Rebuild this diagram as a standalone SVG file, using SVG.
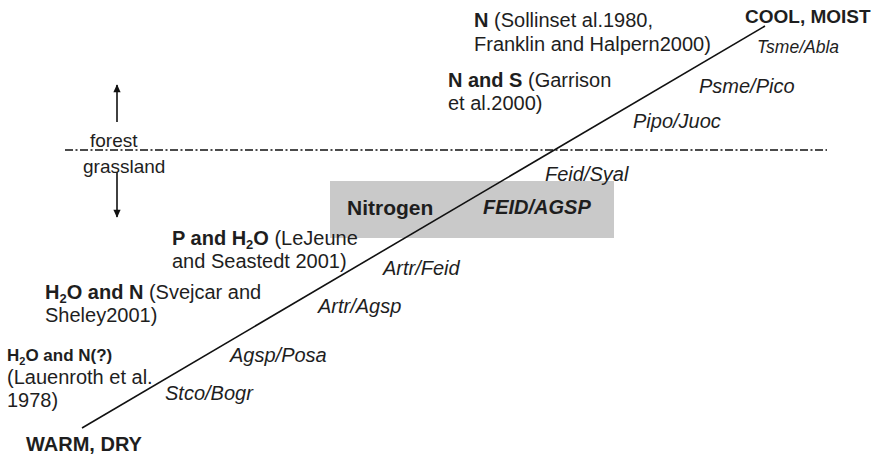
<svg xmlns="http://www.w3.org/2000/svg" width="871" height="456" viewBox="0 0 871 456">
<style>
text{font-family:"Liberation Sans",Arial,sans-serif;fill:#1e1e1e;font-size:20px}
.b{font-weight:bold}
.i{font-style:italic}
.sub{font-size:13px;font-weight:bold}
.ln{stroke:#111;stroke-width:1.6;fill:none}
.dash{stroke:#111;stroke-width:1.6;stroke-dasharray:8 2.5 2 2.5;fill:none}
</style>
<defs>
<marker id="ah" viewBox="0 0 10 10" refX="9" refY="5" markerWidth="9" markerHeight="8" markerUnits="userSpaceOnUse" orient="auto">
<path d="M0,0.5 L10,5 L0,9.5 Z" fill="#111"/>
</marker>
</defs>
<rect width="871" height="456" fill="#fff"/>
<g id="nitrogen-box">
<rect x="330" y="181" width="284" height="57" fill="#c9c9c9"/>
<text x="347" y="215" class="b" style="font-size:21px">Nitrogen</text>
<text x="483" y="214" class="b i">FEID/AGSP</text>
</g>
<g id="connectors">
<line class="ln" x1="82" y1="428" x2="765" y2="26"/>
<line class="dash" x1="65" y1="150" x2="827" y2="150"/>
<line class="ln" x1="117" y1="122" x2="117" y2="85" marker-end="url(#ah)"/>
<line class="ln" x1="117" y1="172" x2="117" y2="217" marker-end="url(#ah)"/>
</g>
<g id="zone-labels">
<text x="90" y="147" style="font-size:19px">forest</text>
<text x="83" y="173" style="font-size:19px">grassland</text>
</g>
<g id="end-labels">
<text x="745" y="23" class="b" style="font-size:19px">COOL, MOIST</text>
<text x="26" y="451" class="b">WARM, DRY</text>
</g>
<g id="ref-n">
<text x="474" y="27"><tspan class="b">N</tspan> (Sollinset al.1980,</text>
<text x="474" y="51">Franklin and Halpern2000)</text>
</g>
<g id="ref-ns">
<text x="448" y="87"><tspan class="b">N and S</tspan> (Garrison</text>
<text x="448" y="110">et al.2000)</text>
</g>
<g id="ref-ph2o">
<text x="172" y="245"><tspan class="b">P and H</tspan><tspan class="sub" dy="4">2</tspan><tspan class="b" dy="-4">O</tspan> (LeJeune</text>
<text x="172" y="268">and Seastedt 2001)</text>
</g>
<g id="ref-h2on">
<text x="45" y="299"><tspan class="b">H</tspan><tspan class="sub" dy="4">2</tspan><tspan class="b" dy="-4">O and N</tspan> (Svejcar and</text>
<text x="45" y="322">Sheley2001)</text>
</g>
<g id="ref-h2on-q">
<text x="7" y="361" class="b" style="font-size:17px">H<tspan style="font-size:11px" dy="4">2</tspan><tspan dy="-4">O and N(?)</tspan></text>
<text x="7" y="384">(Lauenroth et al.</text>
<text x="7" y="407">1978)</text>
</g>
<g id="species">
<text x="757" y="53" class="i" style="font-size:17.5px">Tsme/Abla</text>
<text x="699" y="93" class="i">Psme/Pico</text>
<text x="633" y="128" class="i">Pipo/Juoc</text>
<text x="545" y="181" class="i">Feid/Syal</text>
<text x="383" y="275" class="i">Artr/Feid</text>
<text x="318" y="313" class="i">Artr/Agsp</text>
<text x="230" y="362" class="i">Agsp/Posa</text>
<text x="165" y="400" class="i">Stco/Bogr</text>
</g>
</svg>
